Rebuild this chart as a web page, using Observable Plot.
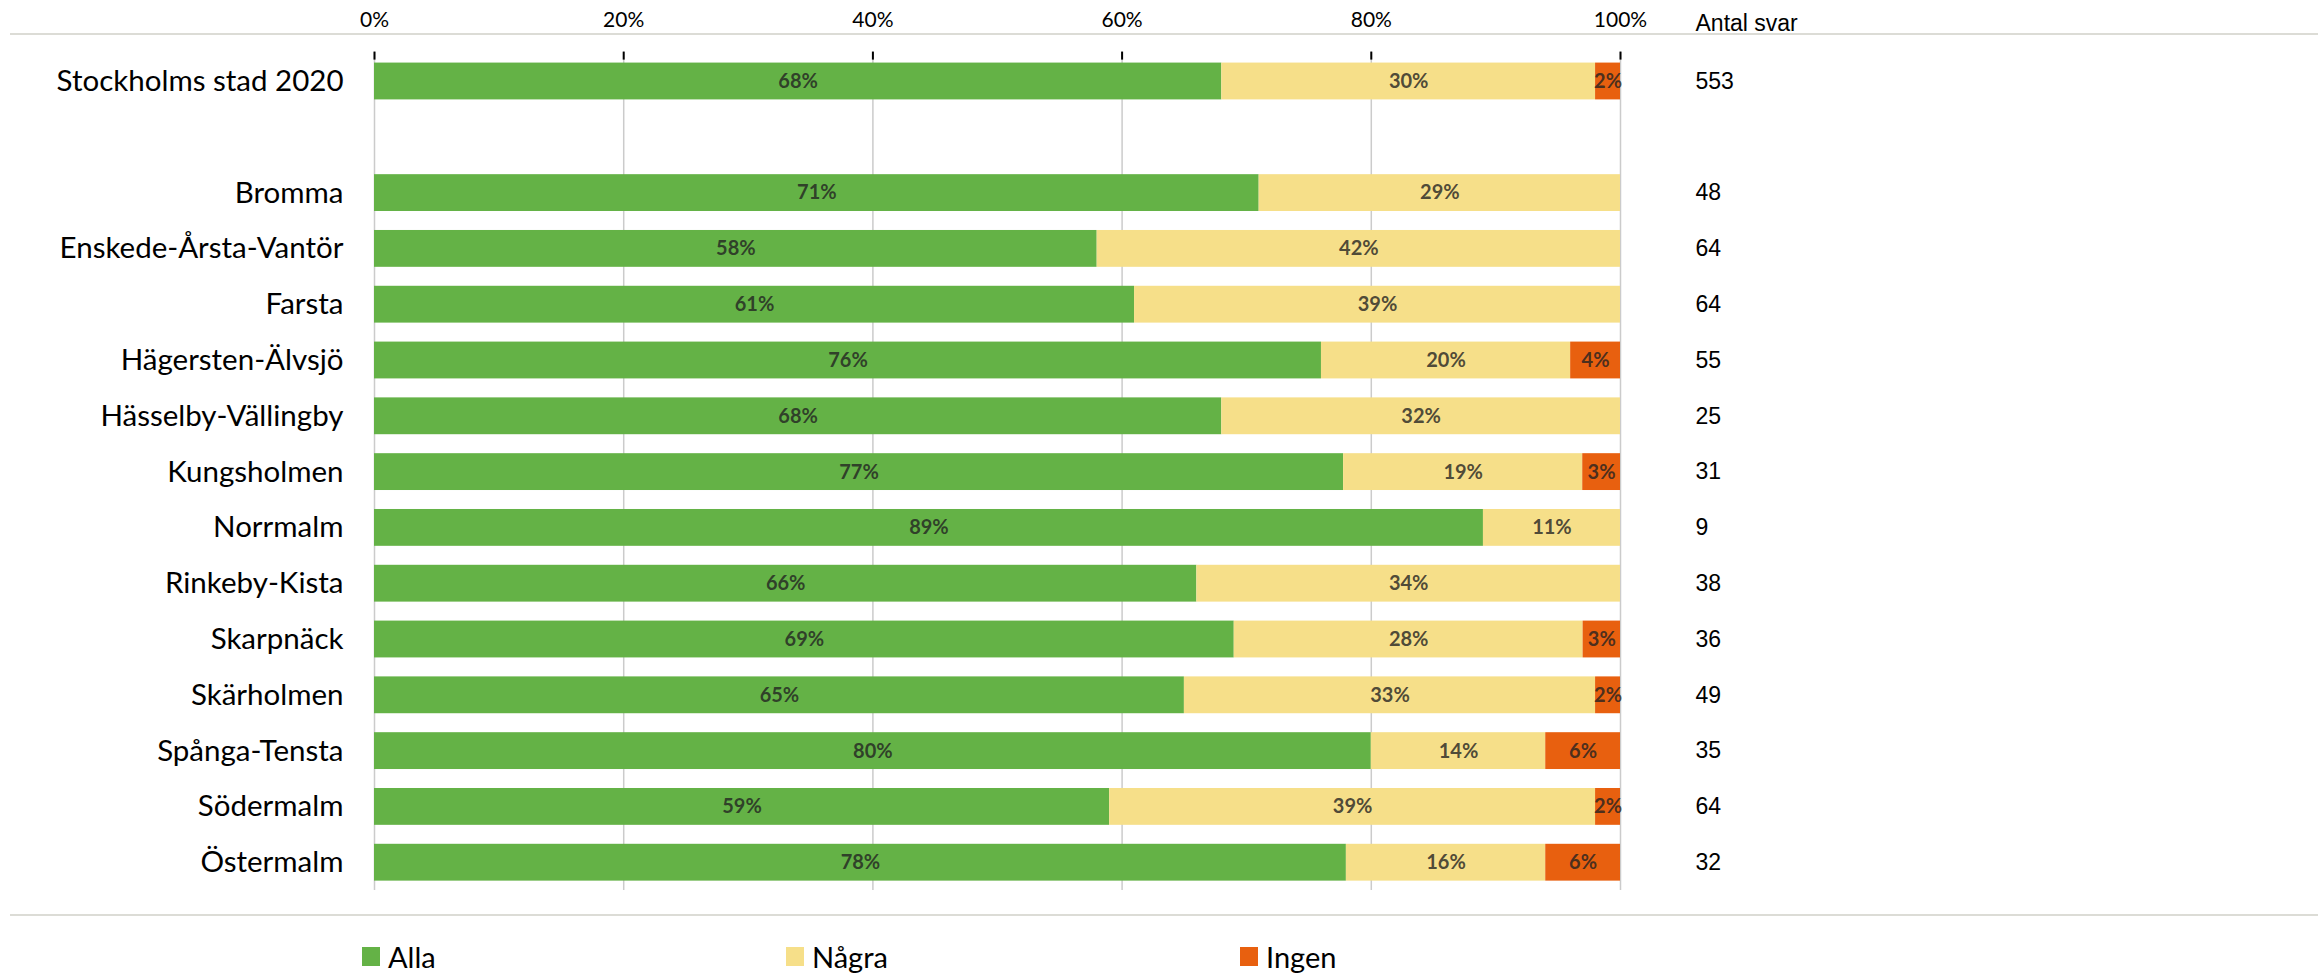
<!DOCTYPE html>
<html>
<head>
<meta charset="utf-8">
<script src="https://cdn.jsdelivr.net/npm/d3@7"></script>
<script src="https://cdn.jsdelivr.net/npm/@observablehq/plot@0.6"></script>
<style>
  html, body { margin: 0; padding: 0; background: #fff; }
  #wrap { position: relative; width: 2318px; height: 973px; overflow: hidden; font-family: Lato, sans-serif; color: #000; }
  .hline { position: absolute; left: 10px; right: 0; height: 0; border-top: 2px solid #dcdcd6; }
  .leg { position: absolute; top: 942px; display: flex; align-items: center; font-family: Lato, sans-serif; font-size: 29px; line-height: 29px; color: #000; }
  .leg i { display: inline-block; width: 18px; height: 19px; margin-right: 8px; }
</style>
</head>
<body>
<div id="wrap"></div>
<script>
// ---- data ----
const names = ["Stockholms stad 2020", "Bromma", "Enskede-Årsta-Vantör", "Farsta", "Hägersten-Älvsjö",
  "Hässelby-Vällingby", "Kungsholmen", "Norrmalm", "Rinkeby-Kista", "Skarpnäck", "Skärholmen",
  "Spånga-Tensta", "Södermalm", "Östermalm"];
const alla  = [68, 71, 58, 61, 76, 68, 77, 89, 66, 69, 65, 80, 59, 78];
const nagra = [30, 29, 42, 39, 20, 32, 19, 11, 34, 28, 33, 14, 39, 16];
const ingen = [ 2,  0,  0,  0,  4,  0,  3,  0,  0,  3,  2,  6,  2,  6];
const antal = [553, 48, 64, 64, 55, 25, 31, 9, 38, 36, 49, 35, 64, 32];
const categories = ["Alla", "Några", "Ingen"];
const colors = ["#64b246", "#f6df89", "#e8600f"];
const xTicks = [0, 0.2, 0.4, 0.6, 0.8, 1];
const countHeader = "Antal svar";

// ---- build tables ----
const series = [alla, nagra, ingen];
const long = [];
names.forEach((n, i) => categories.forEach((c, j) => long.push({name: n, cat: c, value: series[j][i]})));
const counts = names.map((n, i) => ({name: n, n: antal[i]}));
const yDomain = [names[0], "", ...names.slice(1)];

const W = 2318, H = 930, mT = 43.6, mB = 30.4;
const frameH = H - mT - mB;

const chart = Plot.plot({
  width: W,
  height: H,
  marginLeft: 374,
  marginRight: 698,
  marginTop: mT,
  marginBottom: mB,
  style: {fontFamily: "Lato, sans-serif", color: "#000", background: "transparent"},
  x: {domain: [0, 1]},
  y: {domain: yDomain, padding: 0.34, round: false},
  color: {domain: categories, range: colors},
  marks: [
    Plot.ruleX(xTicks, {stroke: "#cbcbcb", strokeWidth: 1.5, insetTop: 8, insetBottom: 9.6}),
    Plot.ruleX(xTicks, {stroke: "#000", strokeWidth: 2, insetTop: 8, insetBottom: frameH - 16}),
    Plot.barX(long, Plot.stackX({x: "value", y: "name", fill: "cat", offset: "normalize", order: categories})),
    Plot.text(long.filter(d => d.value > 0), Plot.stackX({
      x: "value", y: "name", z: "cat", offset: "normalize", order: categories,
      text: d => d.value + "%", fontSize: 20, fontWeight: "bold", fill: "#222", fillOpacity: 0.8
    })),
    Plot.axisX({anchor: "top", ticks: xTicks, tickFormat: d3.format(".0%"), tickSize: 0, tickPadding: 17, fontSize: 21, label: null}),
    Plot.axisY({tickSize: 0, tickPadding: 31, fontSize: 29.5, label: null}),
    Plot.text(counts, {y: "name", text: "n", frameAnchor: "right", dx: 75, textAnchor: "start",
      fontSize: 23, fontFamily: "'Liberation Sans', Arial, sans-serif", fill: "#000"}),
    Plot.text([countHeader], {frameAnchor: "top-right", dx: 75, dy: -29, textAnchor: "start",
      fontSize: 23, fontFamily: "'Liberation Sans', Arial, sans-serif", fill: "#000"})
  ]
});

const wrap = document.getElementById("wrap");
wrap.appendChild(chart);

// decorative separator lines
const lineTop = document.createElement("div");
lineTop.className = "hline"; lineTop.style.top = "33px"; wrap.appendChild(lineTop);
const lineBottom = document.createElement("div");
lineBottom.className = "hline"; lineBottom.style.top = "914px"; wrap.appendChild(lineBottom);

// legend
const legLeft = [362, 786, 1240];
categories.forEach((c, i) => {
  const d = document.createElement("div");
  d.className = "leg";
  d.style.left = legLeft[i] + "px";
  const sw = document.createElement("i");
  sw.style.background = colors[i];
  d.appendChild(sw);
  d.appendChild(document.createTextNode(c));
  wrap.appendChild(d);
});
</script>
</body>
</html>
